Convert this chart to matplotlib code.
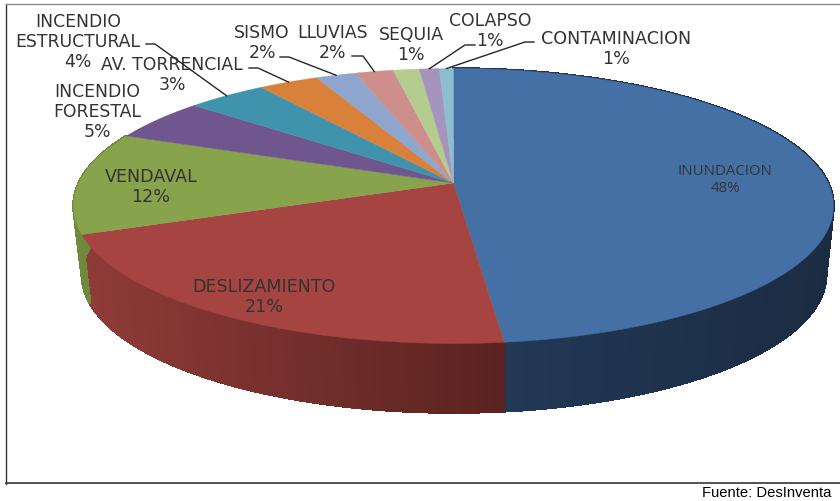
import numpy as np
import matplotlib
matplotlib.use("Agg")
import matplotlib.pyplot as plt
from matplotlib.colors import to_rgb
from matplotlib.patches import Polygon

# valores (sentido horario desde arriba)
categorias = ['INUNDACION', 'DESLIZAMIENTO', 'VENDAVAL', 'INCENDIO\nFORESTAL',
              'INCENDIO\nESTRUCTURAL', 'AV. TORRENCIAL', 'SISMO', 'LLUVIAS',
              'SEQUIA', 'COLAPSO', 'CONTAMINACION']
valores = [48.2, 20.9, 12, 5, 4, 3, 2, 1.9, 1.3, 1, 0.7]
colores = ['#4470A6', '#A64441', '#87A34C', '#6F568F', '#3F93AC', '#D9803A',
           '#8EA6CD', '#CE8E8C', '#B5CC8F', '#A595BC', '#8CBDD0']
# color del lateral: en el borde derecho e izquierdo de cada cuña
lateral = {0: ('#1B2C42', '#233A59'), 1: ('#5A2320', '#8F3B38'), 2: ('#6F8A3C', '#6F8A3C')}

# posicion de cada etiqueta en pixeles
etiqueta_x = [725, 264, 151, 97, 78, 172, 262, 333, 411, 490, 616]
etiqueta_y = [180, 297, 187, 112, 42, 75, 43, 43, 45, 31, 49]
etiqueta_size = [10.8, 12.6, 12.6, 12.4, 12.4, 12.4, 12.4, 12.4, 12.4, 12.4, 12.6]
etiqueta_font = ['Open Sans'] + ['DejaVu Sans'] * 10
# inicio de las lineas guia (indice de categoria, codo y salida)
guias = {4: [(146, 45), (155, 45)], 5: [(249, 69), (258, 69)], 6: [(280, 58), (289, 58)],
         7: [(352, 57), (363, 57)], 9: [(475, 46), (465, 46)], 10: [(534, 43), (525, 43)]}

cx, cy, rx, ry = 453.5, 207, 380, 137.5
cx2, cy2, rx2 = 454, 276, 372
a = 0.167


def borde(frac, cx=cx, cy=cy, rx=rx):
    ang = 2 * np.pi * np.asarray(frac)
    u, v = np.sin(ang), np.cos(ang)
    d = 1 + a * v
    return np.column_stack((cx + rx * u * np.sqrt(1 - a * a) / d, cy - ry * (v + a) / d))


plt.rcParams['font.family'] = ['Open Sans', 'DejaVu Sans']
fig = plt.figure(figsize=(8.4, 5.02), dpi=100)
ax = fig.add_axes([0, 0, 1, 1])
ax.set_xlim(0, 840)
ax.set_ylim(502, 0)
ax.axis('off')

cum = np.concatenate(([0], np.cumsum(valores))) / sum(valores)

# laterales
for i in range(3):
    f = np.linspace(cum[i], cum[i + 1], 160)
    arriba = borde(f)
    abajo = borde(f, cx2, cy2, rx2)
    c1 = np.array(to_rgb(lateral[i][0]))
    c2 = np.array(to_rgb(lateral[i][1]))
    xmin, xmax = arriba[:, 0].min(), arriba[:, 0].max()
    for j in range(len(f) - 1):
        t = (arriba[j, 0] - xmin) / (xmax - xmin)
        if i == 0:
            col = c1 + (c2 - c1) * (1 - t)
        else:
            col = c2 + (c1 - c2) * t
        ax.add_patch(Polygon([arriba[j], arriba[j + 1], abajo[j + 1], abajo[j]],
                             closed=True, fc=col, ec=col, lw=1.2, antialiased=False))

# cara superior
centro = (cx, cy - ry * a)
for i in range(len(valores)):
    f = np.linspace(cum[i], cum[i + 1], 200)
    ax.add_patch(Polygon(np.vstack(([centro], borde(f))), closed=True,
                         fc=colores[i], ec=colores[i], lw=0.3))

# etiquetas
for i, nombre in enumerate(categorias):
    ax.text(etiqueta_x[i], etiqueta_y[i], f"{nombre}\n{round(valores[i])}%",
            ha='center', va='center', fontsize=etiqueta_size[i], color='#333333',
            family=etiqueta_font[i], linespacing=1.12, zorder=5)

# lineas guia
for i, puntos in guias.items():
    fin = borde((cum[i] + cum[i + 1]) / 2)
    xy = np.vstack((puntos, fin))
    ax.plot(xy[:, 0], xy[:, 1], color='#262626', lw=1, zorder=6)

# marco
ax.plot([6, 6], [5, 485], color='#333333', lw=1)
ax.plot([6, 840], [4.5, 4.5], color='#8c8c8c', lw=1)
ax.plot([6, 840], [484, 484], color='#333333', lw=1.2)

ax.text(702, 493.5, 'Fuente: DesInventa', family=['Liberation Sans', 'DejaVu Sans'],
        fontsize=10.6, color='black', ha='left', va='center')

fig.savefig('out.png', dpi=100)
